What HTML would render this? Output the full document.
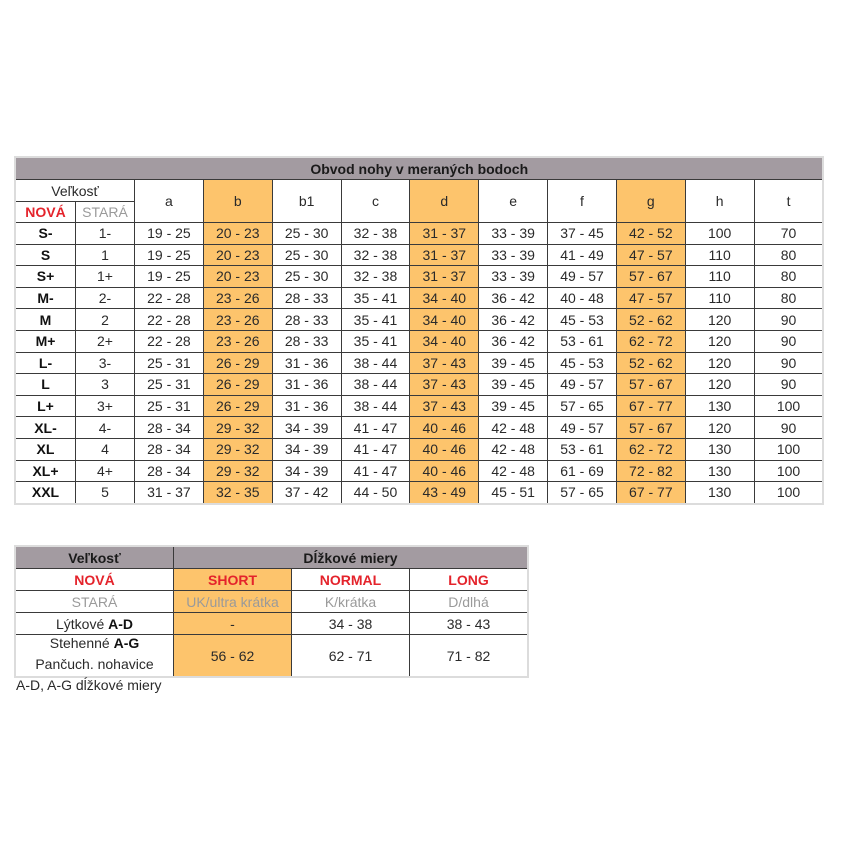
<!DOCTYPE html>
<html>
<head>
<meta charset="utf-8">
<style>
  html,body{margin:0;padding:0;background:#fff;}
  body{width:850px;height:850px;position:relative;overflow:hidden;font-family:"Liberation Sans",Arial,sans-serif;font-size:14px;color:#2a2a2a;}
  .wrap{position:absolute;border:2px solid #dcdcdc;}
  .g{display:grid;gap:1px;background:#3a3a3a;}
  .g>div{background:#fff;display:flex;align-items:center;justify-content:center;text-align:center;white-space:nowrap;}
  .t1{grid-template-columns:59px 58px repeat(10,67.85px);grid-template-rows:21px 21px 20px repeat(13,20.6px);}
  .title{grid-column:1 / span 12;background:#a39ba1 !important;font-weight:bold;color:#1a1a1a;}
  .o{background:#fdc46c !important;}
  .b{font-weight:bold;color:#111;}
  .red{color:#e4232b;font-weight:bold;}
  .gr{color:#9a9a9a;}
  .t2{grid-template-columns:157px 117px 117px 117px;grid-template-rows:21px 21px 21px 21px 41px;}
  .hd{background:#a39ba1 !important;font-weight:bold;color:#1a1a1a;}
</style>
</head>
<body>
<div class="wrap" style="left:14px;top:156px;">
<div class="g t1">
  <div class="title">Obvod nohy v meraných bodoch</div>
  <div style="grid-column:1 / span 2;">Veľkosť</div>
  <div style="grid-row:2 / span 2;grid-column:3;">a</div>
  <div class="o" style="grid-row:2 / span 2;grid-column:4;">b</div>
  <div style="grid-row:2 / span 2;grid-column:5;">b1</div>
  <div style="grid-row:2 / span 2;grid-column:6;">c</div>
  <div class="o" style="grid-row:2 / span 2;grid-column:7;">d</div>
  <div style="grid-row:2 / span 2;grid-column:8;">e</div>
  <div style="grid-row:2 / span 2;grid-column:9;">f</div>
  <div class="o" style="grid-row:2 / span 2;grid-column:10;">g</div>
  <div style="grid-row:2 / span 2;grid-column:11;">h</div>
  <div style="grid-row:2 / span 2;grid-column:12;">t</div>
  <div class="red" style="grid-row:3;grid-column:1;">NOVÁ</div>
  <div class="gr" style="grid-row:3;grid-column:2;">STARÁ</div>

  <div class="b">S-</div><div>1-</div><div>19 - 25</div><div class="o">20 - 23</div><div>25 - 30</div><div>32 - 38</div><div class="o">31 - 37</div><div>33 - 39</div><div>37 - 45</div><div class="o">42 - 52</div><div>100</div><div>70</div>
  <div class="b">S</div><div>1</div><div>19 - 25</div><div class="o">20 - 23</div><div>25 - 30</div><div>32 - 38</div><div class="o">31 - 37</div><div>33 - 39</div><div>41 - 49</div><div class="o">47 - 57</div><div>110</div><div>80</div>
  <div class="b">S+</div><div>1+</div><div>19 - 25</div><div class="o">20 - 23</div><div>25 - 30</div><div>32 - 38</div><div class="o">31 - 37</div><div>33 - 39</div><div>49 - 57</div><div class="o">57 - 67</div><div>110</div><div>80</div>
  <div class="b">M-</div><div>2-</div><div>22 - 28</div><div class="o">23 - 26</div><div>28 - 33</div><div>35 - 41</div><div class="o">34 - 40</div><div>36 - 42</div><div>40 - 48</div><div class="o">47 - 57</div><div>110</div><div>80</div>
  <div class="b">M</div><div>2</div><div>22 - 28</div><div class="o">23 - 26</div><div>28 - 33</div><div>35 - 41</div><div class="o">34 - 40</div><div>36 - 42</div><div>45 - 53</div><div class="o">52 - 62</div><div>120</div><div>90</div>
  <div class="b">M+</div><div>2+</div><div>22 - 28</div><div class="o">23 - 26</div><div>28 - 33</div><div>35 - 41</div><div class="o">34 - 40</div><div>36 - 42</div><div>53 - 61</div><div class="o">62 - 72</div><div>120</div><div>90</div>
  <div class="b">L-</div><div>3-</div><div>25 - 31</div><div class="o">26 - 29</div><div>31 - 36</div><div>38 - 44</div><div class="o">37 - 43</div><div>39 - 45</div><div>45 - 53</div><div class="o">52 - 62</div><div>120</div><div>90</div>
  <div class="b">L</div><div>3</div><div>25 - 31</div><div class="o">26 - 29</div><div>31 - 36</div><div>38 - 44</div><div class="o">37 - 43</div><div>39 - 45</div><div>49 - 57</div><div class="o">57 - 67</div><div>120</div><div>90</div>
  <div class="b">L+</div><div>3+</div><div>25 - 31</div><div class="o">26 - 29</div><div>31 - 36</div><div>38 - 44</div><div class="o">37 - 43</div><div>39 - 45</div><div>57 - 65</div><div class="o">67 - 77</div><div>130</div><div>100</div>
  <div class="b">XL-</div><div>4-</div><div>28 - 34</div><div class="o">29 - 32</div><div>34 - 39</div><div>41 - 47</div><div class="o">40 - 46</div><div>42 - 48</div><div>49 - 57</div><div class="o">57 - 67</div><div>120</div><div>90</div>
  <div class="b">XL</div><div>4</div><div>28 - 34</div><div class="o">29 - 32</div><div>34 - 39</div><div>41 - 47</div><div class="o">40 - 46</div><div>42 - 48</div><div>53 - 61</div><div class="o">62 - 72</div><div>130</div><div>100</div>
  <div class="b">XL+</div><div>4+</div><div>28 - 34</div><div class="o">29 - 32</div><div>34 - 39</div><div>41 - 47</div><div class="o">40 - 46</div><div>42 - 48</div><div>61 - 69</div><div class="o">72 - 82</div><div>130</div><div>100</div>
  <div class="b">XXL</div><div>5</div><div>31 - 37</div><div class="o">32 - 35</div><div>37 - 42</div><div>44 - 50</div><div class="o">43 - 49</div><div>45 - 51</div><div>57 - 65</div><div class="o">67 - 77</div><div>130</div><div>100</div>
</div>
</div>

<div class="wrap" style="left:14px;top:545px;">
<div class="g t2">
  <div class="hd">Veľkosť</div>
  <div class="hd" style="grid-column:2 / span 3;">Dĺžkové miery</div>
  <div class="red">NOVÁ</div><div class="red o">SHORT</div><div class="red">NORMAL</div><div class="red">LONG</div>
  <div class="gr">STARÁ</div><div class="gr o">UK/ultra krátka</div><div class="gr">K/krátka</div><div class="gr">D/dlhá</div>
  <div>Lýtkové&nbsp;<b style="color:#111">A-D</b></div><div class="o">-</div><div>34 - 38</div><div>38 - 43</div>
  <div style="flex-direction:column;line-height:21px;padding-bottom:4px;box-sizing:border-box;"><span>Stehenné <b style="color:#111">A-G</b></span><span>Pančuch. nohavice</span></div><div class="o">56 - 62</div><div>62 - 71</div><div>71 - 82</div>
</div>
</div>

<div style="position:absolute;left:16px;top:677px;font-size:14px;color:#2a2a2a;">A-D, A-G dĺžkové miery</div>
</body>
</html>
